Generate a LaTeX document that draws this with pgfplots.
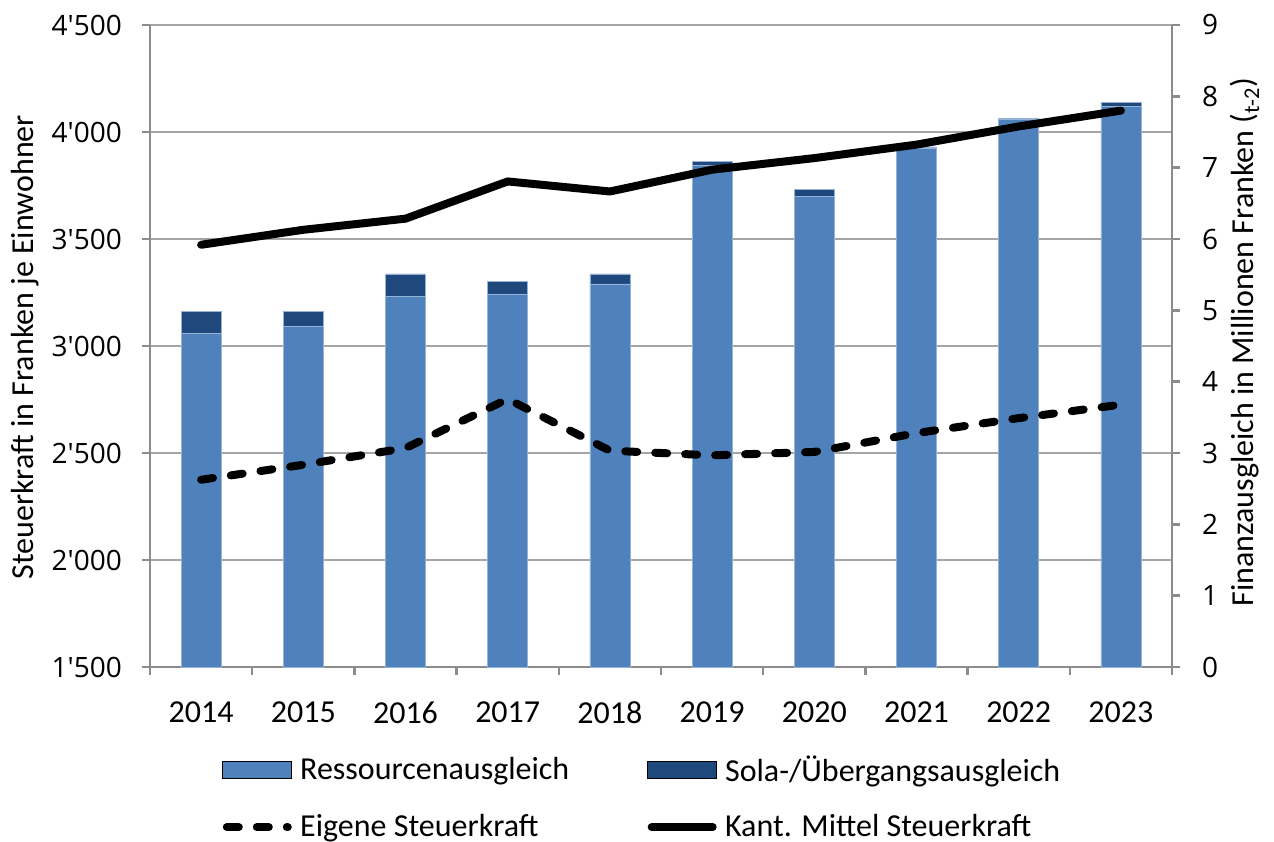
\documentclass[border=0pt]{standalone}
\usepackage{fontspec}
\setmainfont{Carlito}
\newfontfamily\tickfont{Open Sans}[Ligatures=TeXOff]
\usepackage{pgfplots}
\pgfplotsset{compat=1.18}
\definecolor{ress}{RGB}{79,129,189}
\definecolor{sola}{RGB}{31,73,125}
\definecolor{gridc}{RGB}{165,165,165}
\definecolor{axc}{RGB}{140,140,140}
\pgfplotsset{base/.style={
  scale only axis, width=511bp, height=321bp,
  xmin=-0.5, xmax=9.5,
  axis line style={axc, line width=1.2bp},
  tick style={axc, line width=1.2bp},
  tick align=outside,
  major tick length=4bp,
  label style={font=\fontsize{16bp}{19bp}\selectfont},
},
linelegend/.style={legend image code/.code={\draw[##1] (2bp,0bp) -- (32.5bp,0bp);}},
boxlegend/.style={legend image code/.code={\fill[##1] (0bp,-4.25bp) rectangle (34.5bp,4.25bp);}},
}
\begin{document}
\begin{tikzpicture}
% axis 1: left axis with grid
\begin{axis}[base,
  ymin=1500, ymax=4500,
  ytick={1500,2000,2500,3000,3500,4000,4500},
  yticklabels={1'500,2'000,2'500,3'000,3'500,4'000,4'500},
  yticklabel style={font=\tickfont\fontsize{14bp}{16bp}\selectfont, xshift=-6.5bp},
  axis y line*=left, axis x line*=bottom,
  ymajorgrids, grid style={gridc, line width=1.2bp},
  xtick={-0.5,0.5,...,9.5}, xticklabels={},
  extra x ticks={0,1,2,3,4,5,6,7,8,9},
  extra x tick labels={2014,2015,2016,2017,2018,2019,2020,2021,2022,2023},
  extra x tick style={major tick length=0pt, grid=none, xticklabel style={font=\fontsize{16bp}{19bp}\selectfont, yshift=-14bp}},
  ylabel={Steuerkraft in Franken je Einwohner},
  ylabel style={at={(axis description cs:-0.1223,0.498)}, anchor=center},
]
\addplot[draw=none] coordinates {(0,1500)};
\coordinate (BL) at (rel axis cs:0,0);
\coordinate (TR) at (rel axis cs:1,1);
\end{axis}
% axis 2: bars on right axis
\begin{axis}[base,
  ymin=0, ymax=9, ytick={0,1,...,9},
  /pgf/number format/assume math mode=true,
  yticklabel style={font=\tickfont\fontsize{14bp}{16bp}\selectfont, xshift=7.5bp},
  axis y line*=right, axis x line=none,
  ybar stacked, bar width=20bp,
  ylabel={Finanzausgleich in Millionen Franken (\textsubscript{t-2})},
  ylabel style={at={(axis description cs:1.0714,0.506)}, anchor=center},
]
\addplot[fill=ress, draw=ress!60!white, line width=0.4bp] coordinates {
(0,4.68) (1,4.77) (2,5.20) (3,5.22) (4,5.37) (5,7.03) (6,6.60) (7,7.27) (8,7.67) (9,7.86)};
\addplot[fill=sola, draw=ress!60!white, line width=0.4bp] coordinates {
(0,0.31) (1,0.22) (2,0.31) (3,0.18) (4,0.14) (5,0.06) (6,0.10) (7,0.02) (8,0.02) (9,0.06)};
\end{axis}
% axis 3: lines on left scale
\begin{axis}[base,
  ymin=1500, ymax=4500, hide axis,
  legend columns=2,
  legend cell align=left,
  legend style={at={(axis description cs:0.0646,-0.127)}, anchor=north west,
    draw=none, fill=none, font=\fontsize{16bp}{19bp}\selectfont,
    nodes={inner sep=1.5bp},
    /tikz/every odd column/.append style={column sep=2.5bp},
    /tikz/every even column/.append style={column sep=37.5bp},
    row sep=12bp},
]
\addlegendimage{boxlegend, fill=ress}
\addlegendentry{Ressourcenausgleich}
\addlegendimage{boxlegend, fill=sola}
\addlegendentry{Sola-/Übergangsausgleich}
\addplot[black, line width=4bp, line cap=round, line join=round, dash pattern=on 6bp off 9bp, linelegend] coordinates {
(0,2375) (1,2445) (2,2523) (3,2752) (4,2511) (5,2489) (6,2505) (7,2593) (8,2663) (9,2726)};
\addlegendentry{Eigene Steuerkraft}
\addplot[black, line width=4bp, line cap=round, line join=round, linelegend] coordinates {
(0,3473) (1,3543) (2,3595) (3,3769) (4,3722) (5,3824) (6,3878) (7,3941) (8,4026) (9,4100)};
\addlegendentry{Kant. Mittel Steuerkraft}
\end{axis}
\pgfresetboundingbox
\path[use as bounding box] ([shift={(-75bp,-87bp)}]BL) rectangle ([shift={(51bp,12.5bp)}]TR);
\end{tikzpicture}
\end{document}
